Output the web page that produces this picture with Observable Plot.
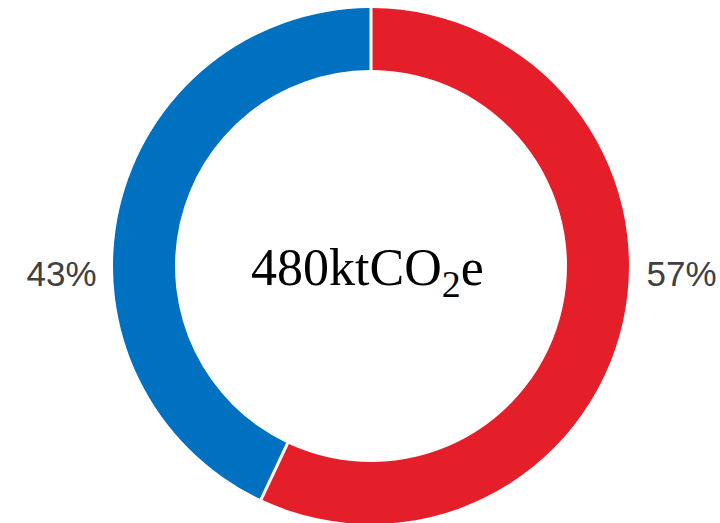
<!DOCTYPE html>
<html>
<head>
<meta charset="utf-8">
<script src="https://cdn.jsdelivr.net/npm/d3@7"></script>
<script src="https://cdn.jsdelivr.net/npm/@observablehq/plot@0.6"></script>
<style>
  html, body { margin: 0; padding: 0; background: #fff; }
  svg { display: block; }
</style>
</head>
<body>
<div id="chart"></div>
<script>
// Data
const categories = ["A", "B"];
const values = [57, 43];
const labels = ["57%", "43%"];
const colors = ["#E41F2A", "#0070C0"];
const centerMain = "480ktCO";
const centerSub = "2";
const centerTail = "e";

const slices = categories.map((c, i) => ({category: c, value: values[i], label: labels[i], color: colors[i]}));
const pie = d3.pie().value(d => d.value).sort(null)(slices);
pie.forEach(p => { p.mid = (p.startAngle + p.endAngle) / 2; });

const outerR = 258, innerR = 196, labelR = 310;
const serif = "'Liberation Serif', 'Times New Roman', serif";

function donutMark() {
  return Plot.dot(pie, {x: () => 0, y: () => 0, r: 0,
    render(index, scales, values, dimensions, context) {
      const cx = scales.x(0), cy = scales.y(0);
      const rScale = Math.abs(scales.x(1) - scales.x(0));
      const arc = d3.arc()
        .innerRadius(innerR * rScale)
        .outerRadius(outerR * rScale)
        .padAngle(0.0125).padRadius(240);
      const g = d3.create("svg:g").attr("transform", `translate(${cx},${cy})`);
      g.selectAll("path").data(pie).join("path")
        .attr("d", arc)
        .attr("fill", d => d.data.color);
      return g.node();
    }
  });
}

const labelData = pie.map(p => ({
  label: p.data.label,
  x: Math.sign(Math.sin(p.mid)) * labelR,
  y: 0
}));

const chart = Plot.plot({
  width: 720,
  height: 523,
  margin: 0,
  x: {domain: [-371, 349], range: [0, 720], axis: null},
  y: {domain: [-257, 266], range: [523, 0], axis: null},
  marks: [
    donutMark(),
    Plot.text(labelData, {x: "x", y: "y", text: "label", dy: 8,
      fontSize: 35, fill: "#404040", fontFamily: "'Liberation Sans', Arial, sans-serif"}),
    Plot.text([centerMain], {x: () => 0, y: () => 0, text: d => d, dy: 2, dx: -4,
      fontSize: 52, fill: "#000", fontFamily: serif,
      render(index, scales, values, dimensions, context, next) {
        const g = next(index, scales, values, dimensions, context);
        const t = g.querySelector("text");
        if (t) {
          t.textContent = "";
          const ns = "http://www.w3.org/2000/svg";
          const mk = (s, size, dy) => {
            const e = document.createElementNS(ns, "tspan");
            e.textContent = s;
            e.setAttribute("font-family", serif);
            e.setAttribute("style", `font-family:${serif};font-size:${size}px`);
            if (dy) e.setAttribute("dy", dy);
            return e;
          };
          t.append(mk(centerMain, 52), mk(centerSub, 38, "12"), mk(centerTail, 52, "-12"));
        }
        return g;
      }
    })
  ]
});
document.getElementById("chart").append(chart);
</script>
</body>
</html>
